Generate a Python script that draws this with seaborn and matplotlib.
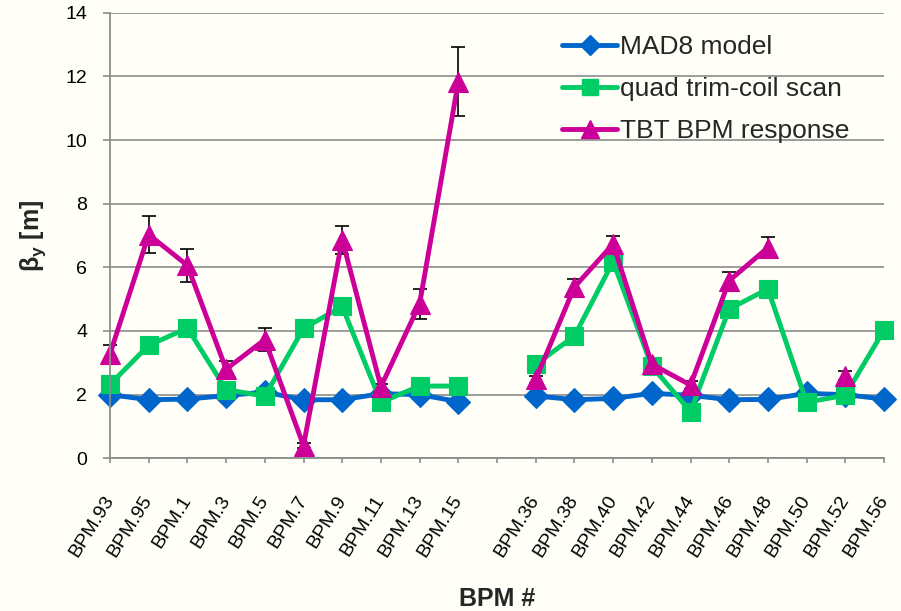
import numpy as np
import pandas as pd
import matplotlib
matplotlib.use("Agg")
import matplotlib.pyplot as plt
from matplotlib.lines import Line2D
import seaborn as sns

# ---- data -----------------------------------------------------------------
bpm_labels = ["BPM.93", "BPM.95", "BPM.1", "BPM.3", "BPM.5", "BPM.7", "BPM.9",
              "BPM.11", "BPM.13", "BPM.15", "",
              "BPM.36", "BPM.38", "BPM.40", "BPM.42", "BPM.44", "BPM.46",
              "BPM.48", "BPM.50", "BPM.52", "BPM.56"]
nan = np.nan
mad8_model = [2.00, 1.84, 1.86, 1.97, 2.08, 1.84, 1.84, 2.03, 2.00, 1.78, nan,
              1.96, 1.84, 1.88, 2.04, 1.98, 1.84, 1.85, 2.04, 2.00, 1.86]
trim_coil_scan = [2.32, 3.55, 4.09, 2.16, 1.95, 4.08, 4.77, 1.76, 2.27, 2.27, nan,
                  2.95, 3.84, 6.18, 2.89, 1.47, 4.69, 5.32, 1.76, 1.98, 4.03]
tbt_response = [3.28, 7.03, 6.06, 2.80, 3.73, 0.40, 6.87, 2.25, 4.85, 11.83, nan,
                2.48, 5.38, 6.73, 2.96, 2.30, 5.58, 6.62, nan, 2.60, nan]
tbt_error = [0.28, 0.59, 0.51, 0.27, 0.35, 0.08, 0.44, 0.10, 0.46, 1.08, nan,
             0.10, 0.24, 0.26, 0.10, 0.12, 0.28, 0.32, nan, 0.14, nan]

series_names = ["MAD8 model", "quad trim-coil scan", "TBT BPM response"]
series_values = [mad8_model, trim_coil_scan, tbt_response]

# ---- style ----------------------------------------------------------------
colors = {"MAD8 model": "#0066CC",
          "quad trim-coil scan": "#00CC66",
          "TBT BPM response": "#CC0099"}
markers = {"MAD8 model": "D", "quad trim-coil scan": "s", "TBT BPM response": "^"}
msizes = {"D": 12.0, "s": 13.5, "^": 15.0}
legend_msizes = {"D": 10.5, "s": 11.0, "^": 12.5}
line_w = 3.5
bg = "#FFFEF7"
grey = "#8C8C8C"

sns.set_theme(style="white")
plt.rcParams["font.family"] = ["Liberation Sans", "DejaVu Sans"]
plt.rcParams["mathtext.fontset"] = "custom"
plt.rcParams["mathtext.rm"] = "Liberation Sans"
plt.rcParams["mathtext.bf"] = "Liberation Sans:bold"

# long table, split into contiguous runs so gaps stay open
rows = []
for name, vals in zip(series_names, series_values):
    seg = 0
    for i, v in enumerate(vals):
        if np.isnan(v):
            seg += 1
            continue
        rows.append({"pos": i, "value": v, "series": name, "segment": seg})
df = pd.DataFrame(rows)

fig = plt.figure(figsize=(9.01, 6.11), dpi=100, facecolor=bg)
ax = fig.add_axes([110 / 901, 1 - 458.3 / 611, 774 / 901, 445.6 / 611])
ax.set_facecolor(bg)

positions = np.arange(len(bpm_labels))
ax.errorbar(positions, tbt_response, yerr=tbt_error, fmt="none", ecolor="black",
            elinewidth=1.2, capsize=4.8, capthick=1.2, zorder=1.9, clip_on=False)

sns.lineplot(data=df, x="pos", y="value", hue="series", style="series",
             units="segment", estimator=None, hue_order=series_names,
             style_order=series_names, palette=colors, markers=markers,
             dashes=False, linewidth=line_w, legend=False, ax=ax, clip_on=False)

for line in ax.get_lines():
    m = line.get_marker()
    if m in msizes:
        line.set_markersize(msizes[m])
        line.set_markeredgecolor(line.get_color())
        line.set_markeredgewidth(0.8)
        line.set_solid_joinstyle("round")

ax.set_xlim(0, len(bpm_labels) - 1)
ax.set_ylim(0, 14)
ax.set_yticks(np.arange(0, 15, 2))
ax.set_xticks(positions)
ax.set_xticklabels(bpm_labels, fontsize=14,
                   rotation=58, ha="right", va="center", rotation_mode="anchor")

ax.yaxis.grid(True, color=grey, linewidth=1.2)
ax.xaxis.grid(False)
ax.set_axisbelow(True)
for side in ("top", "right"):
    ax.spines[side].set_visible(False)
for side in ("left", "bottom"):
    ax.spines[side].set_color(grey)
    ax.spines[side].set_linewidth(1.3)

ax.tick_params(axis="y", which="major", left=True, length=5, width=1.2,
               color=grey, pad=11.5, labelsize=14, labelcolor="black")
ax.tick_params(axis="x", which="major", bottom=True, length=3.6, width=1.2,
               color=grey, pad=24, labelcolor="black")

ax.set_ylabel(r"β$_{\mathbf{y}}$ [m]", fontsize=18, fontweight="bold")
ax.yaxis.set_label_coords(-0.08, 0.5)
ax.set_xlabel("BPM #", fontsize=18, fontweight="bold")
ax.xaxis.set_label_coords(0.5, -0.288)

handles = [Line2D([], [], color=colors[n], marker=markers[n], lw=line_w,
                  markersize=legend_msizes[markers[n]],
                  markeredgecolor=colors[n]) for n in series_names]
ax.legend(handles, series_names, loc="upper left", frameon=False,
          bbox_to_anchor=(562 / 901, 1 - 35 / 611), bbox_transform=fig.transFigure,
          fontsize=19, handlelength=2.1, handletextpad=0.08, labelspacing=0.68,
          borderpad=0, borderaxespad=0)

fig.savefig("out.png", dpi=100, facecolor=bg)
